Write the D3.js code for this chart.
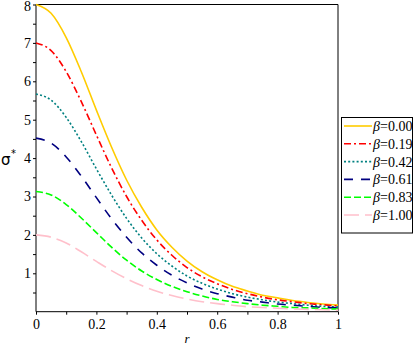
<!DOCTYPE html>
<html>
<head>
<meta charset="utf-8">
<script src="https://cdn.jsdelivr.net/npm/d3@7"></script>
<style>
  body { margin: 0; background: #fff; }
</style>
</head>
<body>
<svg id="chart" width="415" height="346"></svg>
<script>
// radial positions r
const rValues = [0, 0.05, 0.1, 0.15, 0.2, 0.25, 0.3, 0.35, 0.4, 0.45, 0.5,
                 0.55, 0.6, 0.65, 0.7, 0.75, 0.8, 0.85, 0.9, 0.95, 1];

// sigma* for each beta
const beta000 = [8.00, 7.77, 7.14, 6.25, 5.25, 4.29, 3.43, 2.72, 2.13, 1.68, 1.32, 1.04, 0.83, 0.66, 0.54, 0.43, 0.36, 0.29, 0.24, 0.20, 0.17];
const beta019 = [7.00, 6.80, 6.25, 5.47, 4.60, 3.75, 3.00, 2.38, 1.87, 1.47, 1.15, 0.91, 0.73, 0.58, 0.47, 0.38, 0.31, 0.26, 0.21, 0.18, 0.15];
const beta042 = [5.67, 5.51, 5.06, 4.43, 3.72, 3.04, 2.43, 1.92, 1.51, 1.19, 0.93, 0.74, 0.59, 0.47, 0.38, 0.31, 0.25, 0.21, 0.17, 0.14, 0.12];
const beta061 = [4.52, 4.39, 4.03, 3.53, 2.97, 2.42, 1.94, 1.53, 1.21, 0.95, 0.75, 0.59, 0.47, 0.38, 0.30, 0.25, 0.20, 0.17, 0.14, 0.11, 0.10];
const beta083 = [3.13, 3.04, 2.79, 2.44, 2.06, 1.68, 1.34, 1.06, 0.84, 0.66, 0.52, 0.41, 0.32, 0.26, 0.21, 0.17, 0.14, 0.11, 0.10, 0.08, 0.07];
const beta100 = [2.00, 1.94, 1.79, 1.56, 1.31, 1.07, 0.86, 0.68, 0.53, 0.42, 0.33, 0.26, 0.21, 0.17, 0.13, 0.11, 0.09, 0.07, 0.06, 0.05, 0.04];

const legendLabels = ["0.00", "0.19", "0.42", "0.61", "0.83", "1.00"];
const xTickLabels = ["0", "0.2", "0.4", "0.6", "0.8", "1"];
const yTickLabels = ["1", "2", "3", "4", "5", "6", "7", "8"];

const series = [
    { values: beta000, color: "#ffcc00", dash: null },
    { values: beta019, color: "#ff0000", dash: "7,3,2,3" },
    { values: beta042, color: "#008080", dash: "2,2.2" },
    { values: beta061, color: "#000080", dash: "9,8" },
    { values: beta083, color: "#00ff00", dash: "7,3" },
    { values: beta100, color: "#ffc0cb", dash: "15,6" }
];

const SERIF = "Liberation Serif";

const svg = d3.select("#chart");
const plot = { left: 36, right: 338, top: 4.5, bottom: 311.7 };

const x = d3.scaleLinear().domain([0, 1]).range([plot.left, plot.right]);
const y = d3.scaleLinear().domain([0, 8]).range([plot.bottom, plot.top]);

// frame (top and right)
svg.append("path")
    .attr("d", `M${plot.left},${plot.top}H${plot.right}V${plot.bottom}`)
    .attr("fill", "none").attr("stroke", "#000").attr("stroke-width", 1);

// x axis
const xAxis = svg.append("g")
    .attr("transform", `translate(0,${plot.bottom})`)
    .call(d3.axisBottom(x)
        .tickValues(d3.range(0, 1.001, 0.1))
        .tickSize(3)
        .tickFormat((d, i) => i % 2 === 0 ? xTickLabels[i / 2] : ""));
xAxis.attr("font-family", SERIF).attr("font-size", 14);
xAxis.select(".domain").attr("d", `M${plot.left},0H${plot.right}`);
xAxis.selectAll("text").attr("dy", "0.95em").attr("y", 4);

// y axis
const yAxis = svg.append("g")
    .attr("transform", `translate(${plot.left},0)`)
    .call(d3.axisLeft(y)
        .tickValues(d3.range(0.5, 8.001, 0.5))
        .tickSize(3)
        .tickFormat(d => Number.isInteger(d) ? yTickLabels[d - 1] : ""));
yAxis.attr("font-family", SERIF).attr("font-size", 14);
yAxis.select(".domain").attr("d", `M0,${plot.top}V${plot.bottom}`);
yAxis.selectAll("text").attr("x", -5);
yAxis.selectAll("text").filter(d => d === 8).attr("dy", "0.42em");

// axis titles
svg.append("text")
    .attr("x", 1).attr("y", 165)
    .attr("font-family", "DejaVu Sans").attr("font-size", 15)
    .text("σ");
svg.append("text")
    .attr("x", 11).attr("y", 157)
    .attr("font-family", "DejaVu Sans").attr("font-size", 10)
    .text("*");
svg.append("text")
    .attr("x", x(0.5)).attr("y", 343)
    .attr("text-anchor", "middle")
    .attr("font-family", SERIF).attr("font-size", 13).attr("font-style", "italic")
    .text("r");

// curves
const line = d3.line()
    .x((d, i) => x(rValues[i]))
    .y(d => y(d))
    .curve(d3.curveMonotoneX);

series.forEach(s => {
    svg.append("path")
        .datum(s.values)
        .attr("fill", "none")
        .attr("stroke", s.color)
        .attr("stroke-width", 1.6)
        .attr("stroke-dasharray", s.dash)
        .attr("d", line);
});

// legend
const legend = svg.append("g");
legend.append("rect")
    .attr("x", 341.5).attr("y", 117.5)
    .attr("width", 71).attr("height", 115.5)
    .attr("fill", "#fff").attr("stroke", "#000").attr("stroke-width", 1);

series.forEach((s, i) => {
    const ly = 126 + i * 17.8;
    legend.append("line")
        .attr("x1", 344).attr("x2", 372)
        .attr("y1", ly).attr("y2", ly)
        .attr("stroke", s.color)
        .attr("stroke-width", 1.6)
        .attr("stroke-dasharray", s.dash);
    const t = legend.append("text")
        .attr("x", 373).attr("y", ly + 5)
        .attr("font-family", SERIF).attr("font-size", 14);
    t.append("tspan").attr("font-style", "italic").text("β");
    t.append("tspan").text("=" + legendLabels[i]);
});
</script>
</body>
</html>
